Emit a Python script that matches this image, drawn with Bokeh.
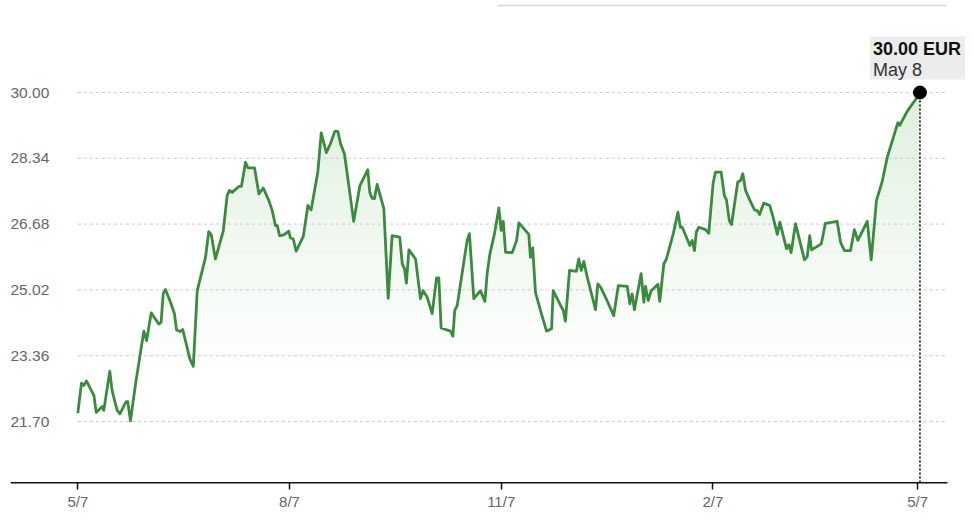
import numpy as np
import pandas as pd
from bokeh.plotting import figure
from bokeh.models import Range1d, FixedTicker, Label
from bokeh.core.properties import value
from bokeh.embed import file_html
from bokeh.resources import INLINE

# ---------------- data ----------------
start_date = "2024-05-07"
day_offsets = [
    0, 1.6, 2.6, 3.8, 7.0, 8.0, 10.6, 11.3, 13.9, 14.9,
    17.1, 18.3, 21.0, 21.7, 22.9, 25.1, 28.7, 29.9, 31.9, 35.2,
    36.2, 37.1, 38.1, 40.3, 42.0, 42.9, 44.6, 45.6, 48.7, 50.2,
    51.9, 55.5, 56.9, 58.0, 59.8, 63.2, 64.9, 65.9, 67.1, 70.0,
    71.1, 72.9, 73.9, 76.8, 78.7, 80.6, 83.0, 84.5, 85.9, 86.7,
    87.7, 89.5, 91.7, 92.4, 93.6, 94.9, 98.0, 100.0, 101.4, 104.3,
    105.8, 108.0, 109.8, 111.7, 113.0, 114.2, 115.9, 119.9, 122.6, 126.0,
    126.9, 127.9, 128.9, 130.1, 133.0, 134.9, 136.6, 139.9, 141.0, 142.0,
    142.8, 143.9, 146.8, 148.9, 150.1, 151.8, 154.0, 155.9, 156.9, 157.9,
    162.0, 163.0, 163.8, 164.9, 169.2, 170.2, 172.1, 175.0, 176.9, 177.9,
    179.1, 181.1, 183.0, 184.0, 184.9, 185.9, 188.8, 190.7, 191.7, 196.0,
    196.7, 197.7, 198.9, 201.1, 203.7, 205.9, 206.6, 209.8, 211.0, 211.9,
    213.7, 216.7, 217.7, 218.8, 219.9, 221.4, 225.0, 226.0, 227.2, 229.3,
    232.9, 234.9, 238.8, 239.9, 240.9, 241.9, 244.8, 246.0, 246.7, 247.9,
    249.2, 252.1, 252.9, 254.7, 255.8, 258.8, 260.8, 261.9, 262.7, 266.0,
    267.0, 268.0, 268.8, 269.9, 272.8, 274.2, 276.1, 277.1, 279.6, 281.0,
    281.9, 283.2, 284.1, 286.8, 288.0, 289.0, 290.2, 292.0, 294.1, 295.3,
    296.3, 298.1, 300.7, 302.2, 304.0, 305.1, 308.0, 309.0, 310.0, 311.9,
    315.8, 317.0, 318.1, 318.9, 323.1, 324.9, 330.0, 331.5, 333.2, 335.8,
    337.5, 339.0, 343.1, 344.8, 347.1, 349.6, 351.8, 356.4, 357.2, 360.5,
    364.8, 366.0,
]
prices = [
    21.91, 22.67, 22.61, 22.72, 22.36, 21.93, 22.08, 21.98, 22.97, 22.48,
    21.98, 21.89, 22.20, 22.20, 21.72, 22.65, 23.98, 23.74, 24.44, 24.16,
    24.20, 24.92, 25.03, 24.71, 24.42, 24.01, 23.97, 24.02, 23.28, 23.09,
    25.00, 25.84, 26.49, 26.41, 25.80, 26.50, 27.40, 27.53, 27.48, 27.63,
    27.63, 28.24, 28.10, 28.10, 27.44, 27.59, 27.28, 27.02, 26.64, 26.64,
    26.39, 26.41, 26.50, 26.33, 26.31, 26.00, 26.37, 27.15, 27.04, 27.99,
    28.98, 28.48, 28.71, 29.02, 29.02, 28.71, 28.45, 26.75, 27.65, 28.05,
    27.48, 27.33, 27.32, 27.68, 27.07, 24.81, 26.39, 26.35, 25.68, 25.55,
    25.19, 26.03, 25.80, 24.80, 25.00, 24.84, 24.42, 25.32, 25.32, 24.06,
    23.98, 23.85, 24.50, 24.63, 26.27, 26.44, 24.80, 25.00, 24.73, 25.43,
    25.93, 26.44, 27.09, 26.52, 26.75, 25.97, 25.96, 26.27, 26.71, 26.42,
    25.84, 26.08, 24.96, 24.50, 23.98, 24.04, 25.00, 24.63, 24.50, 24.23,
    25.51, 25.49, 25.80, 25.51, 25.74, 25.34, 24.52, 25.17, 25.09, 24.84,
    24.37, 25.13, 25.11, 24.67, 24.92, 24.52, 25.43, 24.71, 25.11, 24.75,
    25.00, 25.16, 24.73, 25.68, 25.80, 26.44, 26.98, 26.60, 26.60, 26.14,
    26.27, 26.01, 26.48, 26.60, 26.54, 26.45, 27.71, 27.99, 27.99, 27.40,
    27.29, 26.75, 26.67, 27.74, 27.78, 27.95, 27.53, 27.29, 27.04, 27.02,
    26.92, 27.21, 27.15, 26.85, 26.42, 26.73, 26.06, 26.16, 25.96, 26.69,
    25.78, 25.86, 26.39, 26.03, 26.18, 26.70, 26.75, 26.22, 26.01, 26.01,
    26.54, 26.27, 26.75, 25.78, 27.28, 27.76, 28.37, 29.24, 29.17, 29.53,
    29.88, 30.00,
]
y_ticks = [21.70, 23.36, 25.02, 26.68, 28.34, 30.00]
y_tick_labels = ["21.70", "23.36", "25.02", "26.68", "28.34", "30.00"]
x_tick_dates = ["2024-05-07", "2024-08-07", "2024-11-07", "2025-02-07", "2025-05-07"]
x_tick_labels = ["5/7", "8/7", "11/7", "2/7", "5/7"]
last_price_text = "30.00 EUR"
last_date_text = "May 8"

# ---------------- derived ----------------
t0 = pd.Timestamp(start_date)
dates = t0 + pd.to_timedelta(day_offsets, unit="D")
price_arr = np.array(prices)

def to_ms(ts):
    return (pd.Timestamp(ts) - pd.Timestamp("1970-01-01")).total_seconds() * 1000.0

def day_ms(d):
    return to_ms(t0 + pd.Timedelta(days=d))

x_ms = np.array([to_ms(d) for d in dates])
tick_ms = [to_ms(d) for d in x_tick_dates]

x_start = day_ms(-29.25)
x_end = day_ms(387.96)
axis_end = day_ms(377.96)
y_lo, y_hi = 20.136, 32.321

FONT = "Liberation Sans"
GREEN = "#3a8b3e"

p = figure(width=970, height=516, output_backend="svg", toolbar_location=None,
           x_axis_type="datetime", y_axis_location=None,
           x_range=Range1d(x_start, x_end), y_range=Range1d(y_lo, y_hi),
           min_border_left=10, min_border_right=0, min_border_top=0,
           min_border_bottom=33)
p.outline_line_color = None
p.background_fill_color = "white"
p.border_fill_color = "white"
p.xgrid.visible = False
p.ygrid.visible = False

# page rule at the top right (header divider)
p.segment(x0=[day_ms(182.4)], y0=[32.195], x1=[day_ms(377.5)], y1=[32.195],
          line_color="#d6d6d6", line_width=1.5)

# faint vertical gradient fill under the line (stacked translucent layers)
for lvl in np.arange(23.2, 29.6, 0.45):
    p.varea(x=x_ms, y1=np.full(len(x_ms), lvl), y2=np.maximum(price_arr, lvl),
            fill_color=GREEN, fill_alpha=0.0065)

# horizontal dotted gridlines with left labels
p.segment(x0=[to_ms(t0)] * len(y_ticks), y0=y_ticks,
          x1=[axis_end] * len(y_ticks), y1=y_ticks,
          line_color="#c9c9c9", line_width=1, line_dash="3 3")
p.text(x=[x_start] * len(y_ticks), y=y_ticks, text=y_tick_labels,
       text_align="left", text_baseline="middle",
       text_font=value(FONT), text_font_size="15.5px", text_color="#666666")

# price line
p.line(x_ms, price_arr, line_color=GREEN, line_width=2.8, line_join="round")

# vertical dotted marker line and end dot
p.segment(x0=[x_ms[-1]], y0=[price_arr[-1]], x1=[x_ms[-1]], y1=[y_lo],
          line_color="black", line_width=1.5, line_dash="2 2")
p.scatter(x=[x_ms[-1]], y=[price_arr[-1]], size=13, fill_color="black",
          line_color="black")

# baseline of the time axis (ends short of the label box)
p.segment(x0=[x_start], y0=[y_lo], x1=[axis_end], y1=[y_lo],
          line_color="#111111", line_width=3.2)

# end label box
lab1 = Label(x=x_ms[-1], y=price_arr[-1], x_offset=-50, y_offset=56,
             text=last_price_text, text_align="left", text_baseline="top",
             text_font=FONT, text_font_size="18px", text_font_style="bold",
             text_color="#111111", background_fill_color="#ececec",
             padding=dict(top=2, right=4, bottom=21, left=3))
lab2 = Label(x=x_ms[-1], y=price_arr[-1], x_offset=-47, y_offset=33,
             text=last_date_text, text_align="left", text_baseline="top",
             text_font=FONT, text_font_size="18px", text_font_style="normal",
             text_color="#333333")
p.add_layout(lab1)
p.add_layout(lab2)

# x axis
xa = p.xaxis[0]
xa.ticker = FixedTicker(ticks=tick_ms)
xa.major_label_overrides = {t: lbl for t, lbl in zip(tick_ms, x_tick_labels)}
xa.axis_line_color = None
xa.major_tick_line_color = "#111111"
xa.major_tick_line_width = 1.5
xa.major_tick_in = 1
xa.major_tick_out = 6
xa.minor_tick_line_color = None
xa.major_label_standoff = 3
xa.major_label_text_font = FONT
xa.major_label_text_font_size = "15px"
xa.major_label_text_color = "#666666"

open("out.html", "w").write(file_html(p, INLINE))
